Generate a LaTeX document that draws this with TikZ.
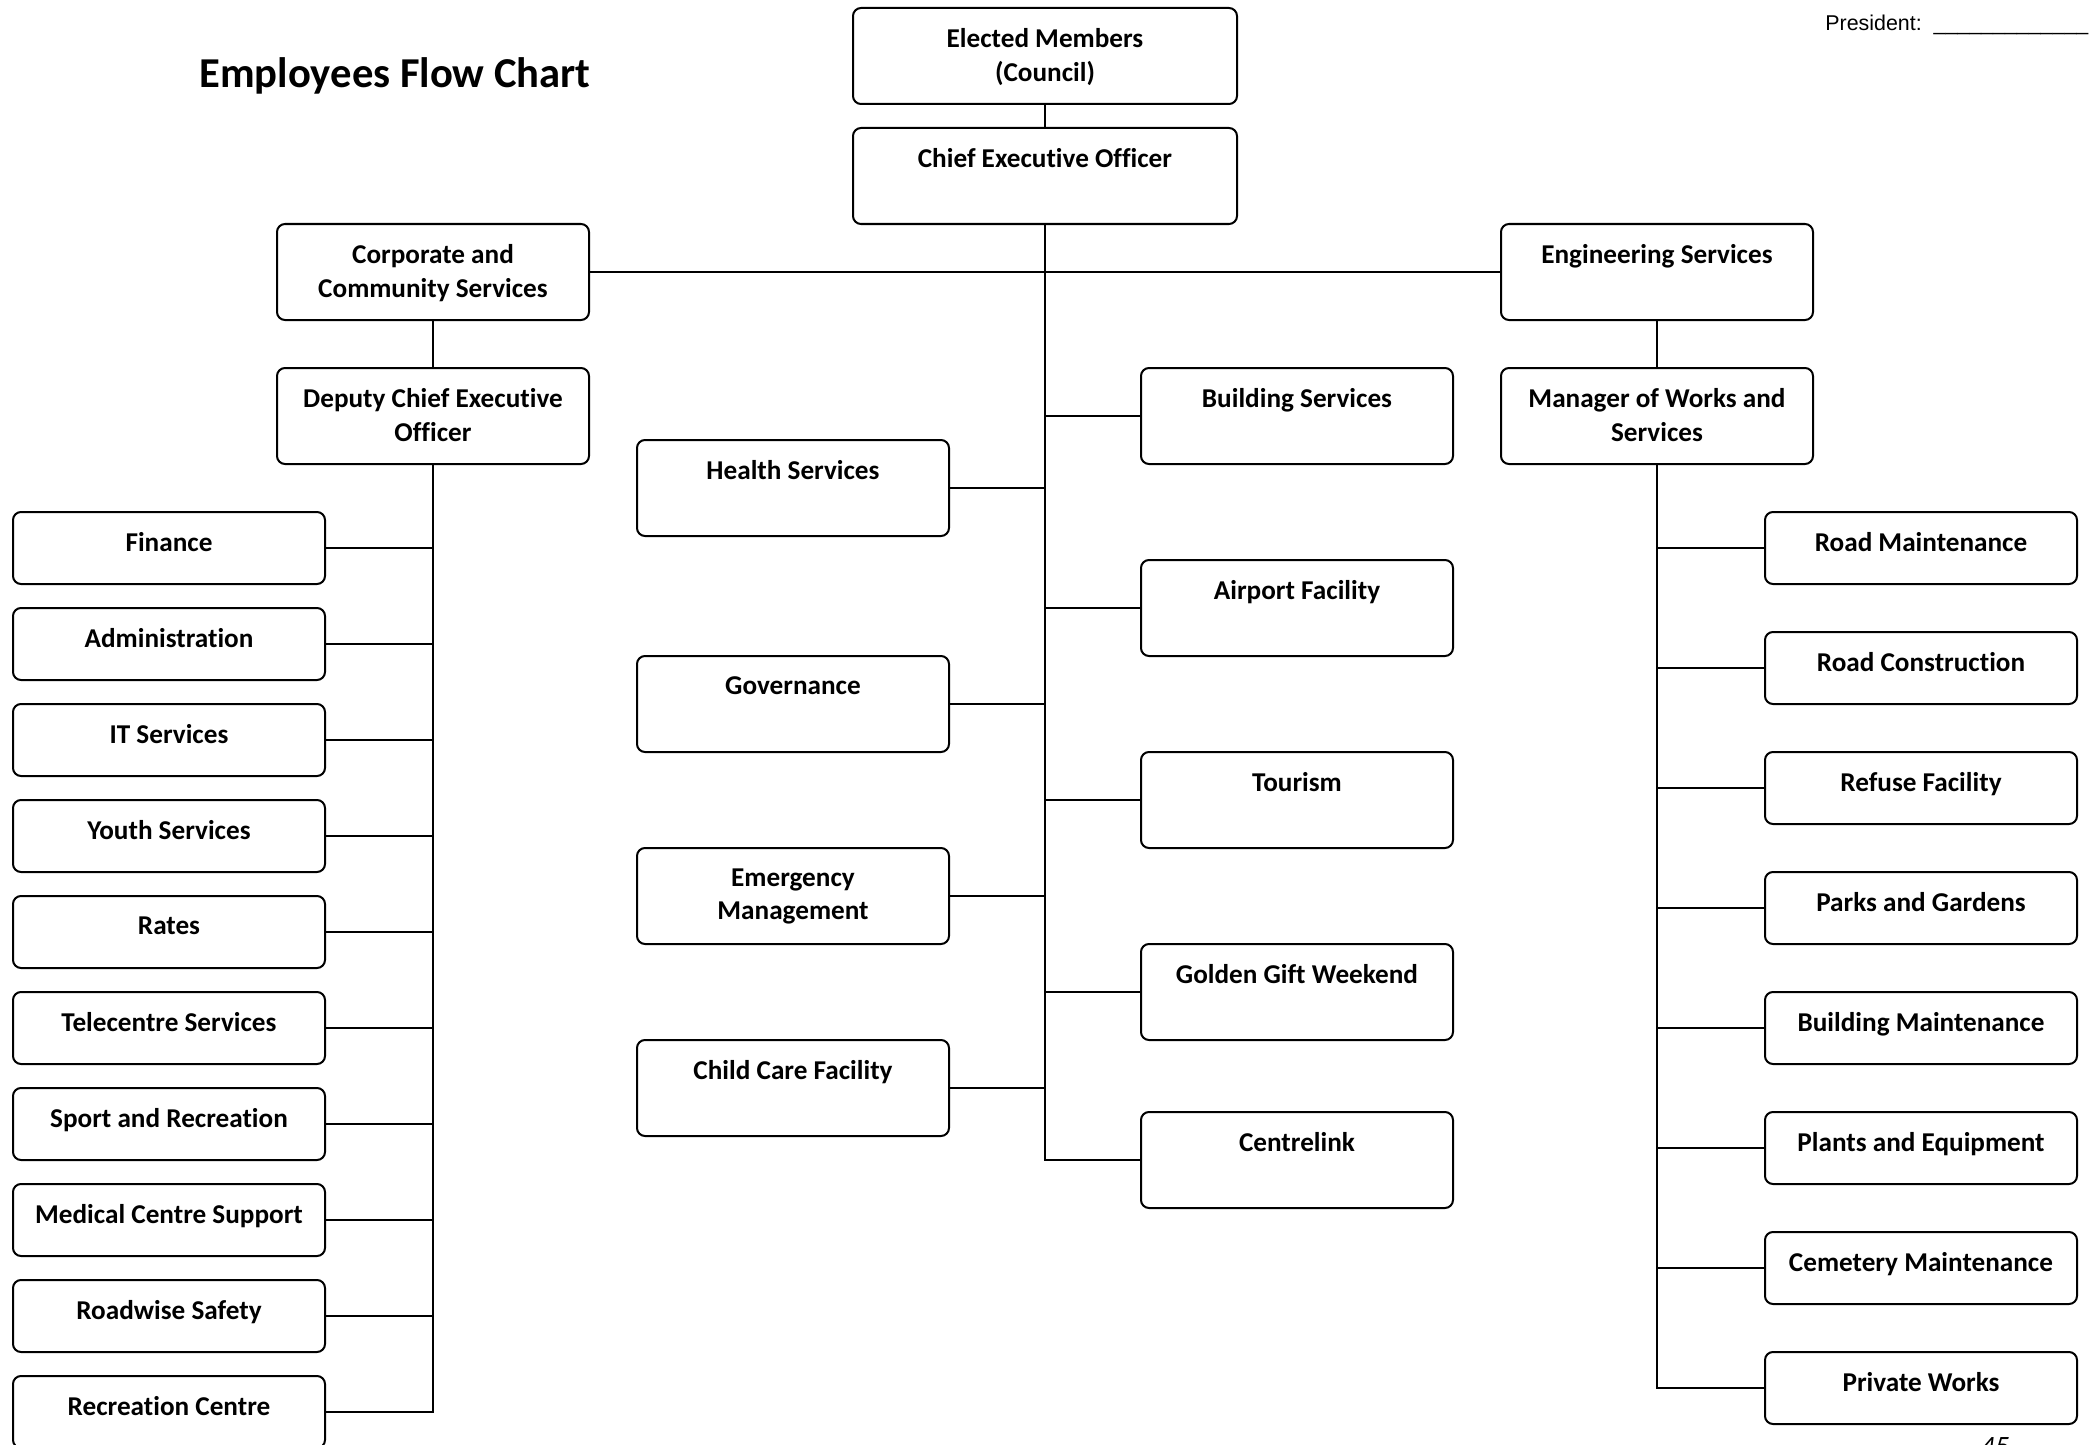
\documentclass[tikz,border=0pt]{standalone}
\usepackage{fontspec}
\setmainfont{Carlito}[Ligatures=NoCommon]
\newfontfamily\arialfont{Liberation Sans}
\usetikzlibrary{positioning}

% one box of the chart: name, centre, style, text (set near the top)
\newcommand\unit[4]{%
  \node[#3] (#1) at (#2) {};
  \node[txt,below=10.5pt of #1.north] (#1-t) {#4};}

\begin{document}
\begin{tikzpicture}[x=0.5pt,y=-0.5pt,
  box/.style={draw,line width=1pt,rounded corners=4pt,minimum width=156pt,minimum height=48pt,inner sep=0pt},
  small/.style={box,minimum height=36pt},
  wide/.style={box,minimum width=192pt},
  txt/.style={font=\bfseries\fontsize{13.6}{16.8}\selectfont,align=center,inner sep=0pt},
  link/.style={line width=0.8pt}
]
\useasboundingbox (0,0) rectangle (2090,1445);

\node[font=\bfseries\fontsize{21.3}{25}\selectfont] (title) at (395,76) {Employees Flow Chart};
\node[anchor=west,inner sep=0pt,font=\arialfont\fontsize{10.7}{13}\selectfont] (pres) at (1825,25)
  {President:~~\_\_\_\_\_\_\_\_\_\_\_\_\_};

% top of the tree
\unit{elect}{1045,56}{wide}{Elected Members\\(Council)}
\unit{ceo}{1045,176}{wide}{Chief Executive Officer}
\unit{corp}{433,272}{box}{Corporate and\\Community Services}
\unit{eng}{1657,272}{box}{Engineering Services}
\unit{dep}{433,416}{box}{Deputy Chief Executive\\Officer}
\unit{mgr}{1657,416}{box}{Manager of Works and\\Services}
\draw[link] (elect) -- (ceo);
\draw[link] (corp.east) -- (eng.west);
\draw[link] (corp) -- (dep);
\draw[link] (eng) -- (mgr);

% corporate side
\foreach \n/\t [count=\i from 0] in {fin/Finance,adm/Administration,its/IT Services,
    yth/Youth Services,rat/Rates,tel/Telecentre Services,spo/Sport and Recreation,
    med/Medical Centre Support,rws/Roadwise Safety,rec/Recreation Centre}{
  \unit{\n}{169,548+96*\i}{small}{\t}
  \draw[link] (dep.south) |- (\n.east);
}

% under the CEO
\foreach \n/\y/\t in {hlt/488/Health Services,gov/704/Governance,
    emg/896/Emergency\\Management,chc/1088/Child Care Facility}{
  \unit{\n}{793,\y}{box}{\t}
  \draw[link] (ceo.south) |- (\n.east);
}
\foreach \n/\y/\t in {bld/416/Building Services,air/608/Airport Facility,
    tou/800/Tourism,ggw/992/Golden Gift Weekend,cen/1160/Centrelink}{
  \unit{\n}{1297,\y}{box}{\t}
  \draw[link] (ceo.south) |- (\n.west);
}

% engineering side
\foreach \n/\t [count=\i from 0] in {rmt/Road Maintenance,rcn/Road Construction,
    ref/Refuse Facility,prk/Parks and Gardens,bmt/Building Maintenance,
    plt/Plants and Equipment,cem/Cemetery Maintenance,pvt/Private Works}{
  \unit{\n}{1921,548+120*\i}{small}{\t}
  \draw[link] (mgr.south) |- (\n.west);
}

\node[anchor=north,inner sep=0pt,font=\itshape\fontsize{14}{16}\selectfont] (page) at (1995,1437) {45};
\end{tikzpicture}
\end{document}
